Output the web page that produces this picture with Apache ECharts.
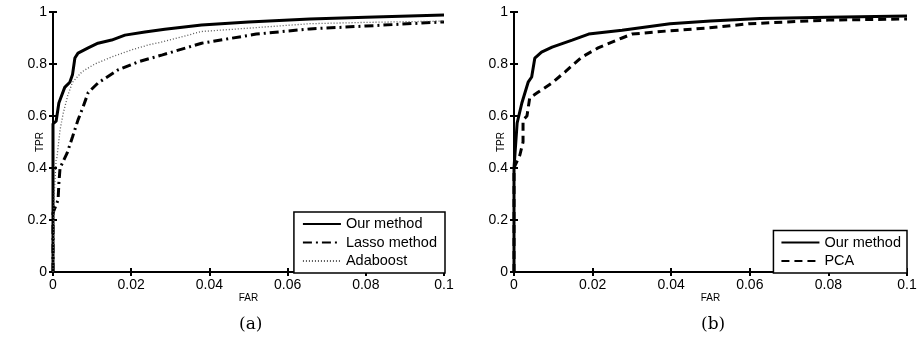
<!DOCTYPE html>
<html>
<head>
<meta charset="utf-8">
<script src="https://cdn.jsdelivr.net/npm/echarts@6/dist/echarts.min.js"></script>
<style>
  html, body { margin: 0; padding: 0; background: #fff; }
  #chart { width: 922px; height: 344px; }
</style>
</head>
<body>
<div id="chart"></div>
<script>
// x ticks (FAR) and y ticks (TPR)
const farTicks = [0, 0.02, 0.04, 0.06, 0.08, 0.1]
const tprTicks = [0, 0.2, 0.4, 0.6, 0.8, 1]

// panel (a): [FAR, TPR] points
const ourMethodA = [[0, 0], [0, 0.3], [0, 0.57], [0.0008, 0.58], [0.0015, 0.65], [0.003, 0.71], [0.0043, 0.73], [0.005, 0.76], [0.0056, 0.823], [0.0064, 0.842], [0.009, 0.862], [0.0115, 0.88], [0.015, 0.892], [0.0184, 0.911], [0.0235, 0.923], [0.0286, 0.934], [0.038, 0.95], [0.05, 0.962], [0.0657, 0.973], [0.08, 0.98], [0.1, 0.988]]
const lassoA = [[0, 0], [0, 0.227], [0.0013, 0.277], [0.0015, 0.34], [0.0018, 0.4], [0.0036, 0.457], [0.005, 0.52], [0.0064, 0.585], [0.0077, 0.635], [0.009, 0.69], [0.0115, 0.727], [0.0166, 0.777], [0.0217, 0.808], [0.028, 0.835], [0.038, 0.88], [0.052, 0.915], [0.0657, 0.935], [0.08, 0.946], [0.1, 0.962]]
const adaboostA = [[0, 0], [0.0003, 0.3], [0.0008, 0.43], [0.001, 0.44], [0.0018, 0.546], [0.0026, 0.61], [0.0038, 0.68], [0.005, 0.73], [0.0074, 0.77], [0.0107, 0.8], [0.015, 0.827], [0.02, 0.854], [0.0248, 0.875], [0.028, 0.885], [0.038, 0.925], [0.052, 0.94], [0.0657, 0.955], [0.08, 0.96], [0.1, 0.965]]

// panel (b)
const ourMethodB = [[0, 0], [0, 0.4], [0.0008, 0.573], [0.002, 0.65], [0.0036, 0.73], [0.0045, 0.75], [0.0053, 0.823], [0.007, 0.846], [0.0097, 0.865], [0.0148, 0.892], [0.019, 0.915], [0.0275, 0.93], [0.0397, 0.955], [0.05, 0.965], [0.0626, 0.975], [0.08, 0.98], [0.1, 0.985]]
const pcaB = [[0, 0], [0, 0.4], [0.0015, 0.45], [0.0023, 0.5], [0.0023, 0.585], [0.0033, 0.6], [0.004, 0.67], [0.006, 0.69], [0.0097, 0.727], [0.013, 0.77], [0.0173, 0.827], [0.0214, 0.862], [0.0275, 0.9], [0.03, 0.915], [0.039, 0.927], [0.049, 0.938], [0.06, 0.955], [0.08, 0.969], [0.1, 0.973]]

const font = 'Liberation Sans, Arial, sans-serif'
const fmt = v => String(+v.toFixed(2))

const xAx = (grid, pos, labels) => ({
  type: 'value', gridIndex: grid, position: pos,
  min: farTicks[0], max: farTicks[farTicks.length - 1], interval: 0.02,
  name: labels ? 'FAR' : '', nameLocation: 'middle', nameGap: 21, nameMoveOverlap: false,
  nameTextStyle: { fontFamily: font, fontSize: 10, color: '#000' },
  axisLine: { show: true, lineStyle: { color: '#000', width: 2 } },
  axisTick: { show: true, inside: true, length: 4, lineStyle: { color: '#000', width: 2 } },
  axisLabel: { show: labels, color: '#000', fontFamily: font, fontSize: 14, margin: 6, formatter: fmt },
  splitLine: { show: false }
})
const yAx = (grid, pos, labels) => ({
  type: 'value', gridIndex: grid, position: pos,
  min: tprTicks[0], max: tprTicks[tprTicks.length - 1], interval: 0.2,
  name: labels ? 'TPR' : '', nameLocation: 'middle', nameGap: 8, nameMoveOverlap: false,
  nameTextStyle: { fontFamily: font, fontSize: 10, color: '#000' },
  axisLine: { show: true, lineStyle: { color: '#000', width: 2 } },
  axisTick: { show: true, inside: true, length: 4, lineStyle: { color: '#000', width: 2 } },
  axisLabel: { show: labels, color: '#000', fontFamily: font, fontSize: 14, margin: 6, formatter: fmt },
  splitLine: { show: false }
})

const line = (name, data, xi, yi, style) => ({
  name, type: 'line', data, xAxisIndex: xi, yAxisIndex: yi,
  symbol: 'none', smooth: false, animation: false,
  lineStyle: Object.assign({ color: '#000', width: 2.5 }, style),
  itemStyle: { color: style.color || '#000' }
})

const legendBase = {
  orient: 'vertical', backgroundColor: '#fff',
  borderColor: '#000', borderWidth: 1.5, borderRadius: 0,
  itemWidth: 38, itemHeight: 10, itemGap: 2.5,
  itemStyle: { opacity: 0 },
  textStyle: { fontFamily: font, fontSize: 14.5, lineHeight: 16, color: '#000' },
  selectedMode: false
}

const myChart = echarts.init(document.getElementById('chart'), null, { renderer: 'canvas' })
myChart.setOption({
  backgroundColor: '#fff',
  animation: false,
  grid: [
    { left: 53, top: 12, width: 391, height: 260 },
    { left: 514, top: 12, width: 393, height: 260 }
  ],
  xAxis: [xAx(0, 'bottom', true), xAx(1, 'bottom', true), xAx(0, 'top', false), xAx(1, 'top', false)],
  yAxis: [yAx(0, 'left', true), yAx(1, 'left', true), yAx(0, 'right', false), yAx(1, 'right', false)],
  legend: [
    Object.assign({}, legendBase, { data: ['Our method', 'Lasso method', 'Adaboost'], right: 477, bottom: 71, padding: [4, 8, 4, 8] }),
    Object.assign({}, legendBase, { data: ['Our method', 'PCA'], right: 15, bottom: 71, padding: [4, 6, 4, 7] })
  ],
  graphic: [
    { type: 'text', left: 239, top: 316, style: { text: '(a)', font: '17px "DejaVu Serif", serif', fill: '#000' } },
    { type: 'text', left: 701, top: 316, style: { text: '(b)', font: '17px "DejaVu Serif", serif', fill: '#000' } }
  ],
  series: [
    line('Our method', ourMethodA, 0, 0, { width: 3 }),
    line('Lasso method', lassoA, 0, 0, { width: 3, type: [9, 4, 2, 4] }),
    line('Adaboost', adaboostA, 0, 0, { width: 1.3, color: '#555', type: [1, 2] }),
    line('Our method', ourMethodB, 1, 1, { width: 3 }),
    line('PCA', pcaB, 1, 1, { width: 3, type: [8, 5] })
  ]
})
window.addEventListener('resize', () => myChart.resize())
</script>
</body>
</html>
